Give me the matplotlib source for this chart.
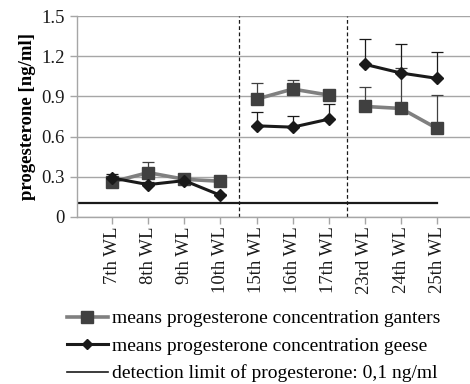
import matplotlib.pyplot as plt
import numpy as np

weeks = ["7th WL", "8th WL", "9th WL", "10th WL", "15th WL", "16th WL",
         "17th WL", "23rd WL", "24th WL", "25th WL"]
groups = [[0, 1, 2, 3], [4, 5, 6], [7, 8, 9]]

ganters = [0.26, 0.33, 0.28, 0.265, 0.88, 0.955, 0.91, 0.825, 0.81, 0.66]
ganters_err = [0.03, 0.08, 0.02, 0.01, 0.12, 0.065, 0.03, 0.145, 0.30, 0.25]
geese = [0.29, 0.24, 0.27, 0.16, 0.68, 0.67, 0.73, 1.14, 1.075, 1.035]
geese_err = [0.03, 0.02, 0.03, 0.01, 0.10, 0.08, 0.11, 0.19, 0.215, 0.195]
detection_limit = 0.1

plt.rcParams['font.family'] = ['Liberation Serif', 'DejaVu Serif']

fig = plt.figure(figsize=(4.7, 3.84), dpi=100)
ax = fig.add_axes([0.164, 0.4357, 0.836, 0.522])

x = np.arange(len(weeks))
ganters = np.array(ganters)
geese = np.array(geese)

# error bars (upper only)
ax.errorbar(x, ganters, yerr=[np.zeros(len(x)), ganters_err], fmt='none',
            ecolor='#404040', elinewidth=0.9, capsize=4, capthick=0.9, zorder=3)
ax.errorbar(x, geese, yerr=[np.zeros(len(x)), geese_err], fmt='none',
            ecolor='#1a1a1a', elinewidth=0.9, capsize=4, capthick=0.9, zorder=3)

for g in groups:
    ax.plot(x[g], ganters[g], color='#808080', lw=2.6, marker='s', ms=9,
            mfc='#404040', mec='#404040', zorder=4)
    ax.plot(x[g], geese[g], color='#1a1a1a', lw=2.2, marker='D', ms=6.5,
            mfc='#1a1a1a', mec='#1a1a1a', zorder=5)

ax.plot([-0.97, 9], [detection_limit, detection_limit], color='#1a1a1a', lw=1.6, zorder=2)

for xv in [3.5, 6.5]:
    ax.axvline(xv, color='#1a1a1a', lw=0.9, ls=(0, (3, 2)), zorder=2)

ax.set_xlim(-0.97, 9.91)
ax.set_ylim(0, 1.5)
ax.set_yticks([0, 0.3, 0.6, 0.9, 1.2, 1.5])
ax.set_yticklabels(["0", "0.3", "0.6", "0.9", "1.2", "1.5"])
ax.set_xticks(x)
ax.set_xticklabels(weeks, rotation=90, fontsize=13.5)
ax.yaxis.grid(True, color='#a6a6a6', lw=1.0)
ax.set_axisbelow(True)
for s in ['top', 'right']:
    ax.spines[s].set_visible(False)
for s in ['left', 'bottom']:
    ax.spines[s].set_color('#a6a6a6')
    ax.spines[s].set_linewidth(1.0)
ax.tick_params(axis='both', colors='#a6a6a6', labelcolor='#1a1a1a',
               length=5, width=1.0)
ax.tick_params(axis='y', labelsize=13.5, pad=4)
ax.tick_params(axis='x', pad=2)
ax.set_ylabel("progesterone [ng/ml]", fontsize=13.5, fontweight='bold', labelpad=4)

# legend below the plot
h1, = ax.plot([], [], color='#808080', lw=2.6, marker='s', ms=9, mfc='#404040', mec='#404040')
h2, = ax.plot([], [], color='#1a1a1a', lw=2.2, marker='D', ms=5, mfc='#1a1a1a', mec='#1a1a1a')
h3, = ax.plot([], [], color='#1a1a1a', lw=1.2)
fig.legend([h1, h2, h3],
           ["means progesterone concentration ganters",
            "means progesterone concentration geese",
            "detection limit of progesterone: 0,1 ng/ml"],
           loc='upper left', bbox_to_anchor=(0.142, 0.193), frameon=False,
           fontsize=14, handlelength=2.1, handletextpad=0.25, labelspacing=0.5,
           borderaxespad=0, borderpad=0)

fig.savefig("out.png", dpi=100)
